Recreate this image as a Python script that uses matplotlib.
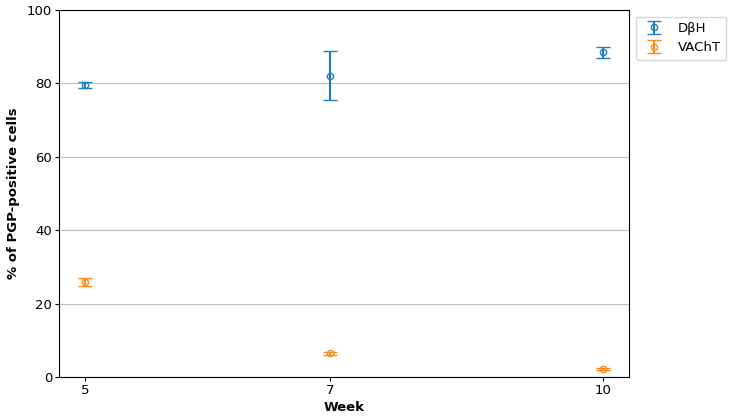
import matplotlib
matplotlib.use('Agg')
import matplotlib.pyplot as plt

# week labels and where they sit along the x axis
weeks = ['5', '7', '10']
week_pos = [0.0, 0.946, 2.0]

dbh_mean = [79.5, 82.1, 88.5]
dbh_err = [0.8, 6.6, 1.5]

vacht_mean = [25.9, 6.4, 2.1]
vacht_err = [1.1, 0.4, 0.3]

plt.rcParams['font.size'] = 9.5

fig = plt.figure(figsize=(7.3, 4.17), dpi=100)
ax = fig.add_axes([0.081, 0.096, 0.781, 0.88])

ax.errorbar(week_pos, dbh_mean, yerr=dbh_err, fmt='o', mfc='none',
            color='#1f7fbf', capsize=5, ms=4.5, label='D\u03b2H')
ax.errorbar(week_pos, vacht_mean, yerr=vacht_err, fmt='o', mfc='none',
            color='#ff8c1a', capsize=5, ms=4.5, label='VAChT')

ax.set_ylim(0, 100)
ax.set_xlim(-0.1, 2.1)
ax.set_xticks(week_pos)
ax.set_xticklabels(weeks)
ax.tick_params(length=3, pad=2)
ax.yaxis.grid(True, color='#c0c0c0')
ax.set_axisbelow(True)
ax.set_xlabel('Week', fontweight='bold', labelpad=3)
ax.set_ylabel('% of PGP-positive cells', fontweight='bold', labelpad=5)
ax.legend(loc='upper left', bbox_to_anchor=(1.0, 1.0), fontsize=9.5,
          handlelength=2.0)

fig.savefig('out.png', dpi=100)
